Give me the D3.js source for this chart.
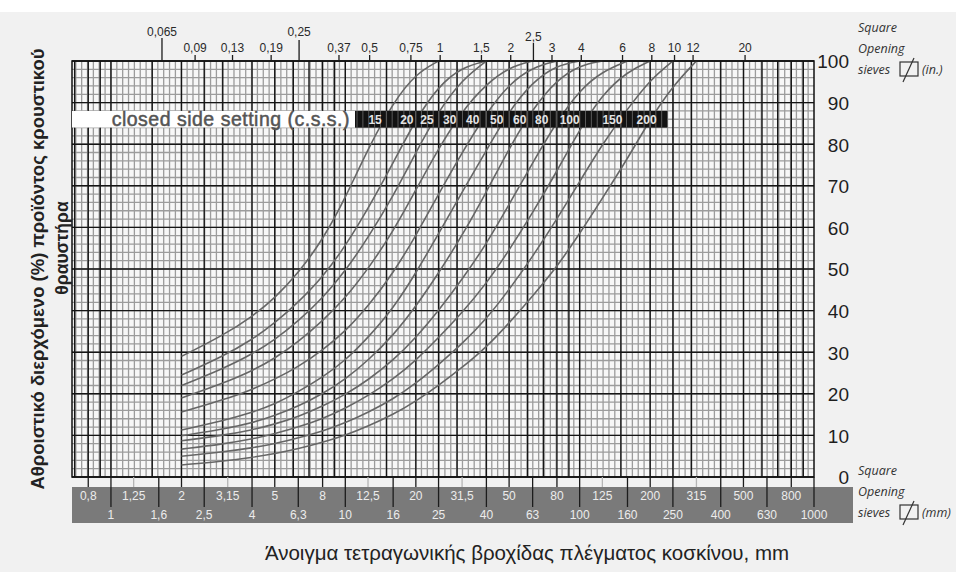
<!DOCTYPE html>
<html>
<head>
<meta charset="utf-8">
<script src="https://cdn.jsdelivr.net/npm/d3@7"></script>
<style>
  body { margin: 0; background: #fff; }
  svg { display: block; font-family: "Liberation Sans", Arial, sans-serif; }
</style>
</head>
<body>
<svg width="956" height="572"></svg>
<script>
// sieve openings (mm) where the passing % was read for every curve
const sieves = [2, 3, 4, 5, 6.3, 8, 10, 12.5, 16, 20, 25, 31.5, 40, 50, 63, 80, 100, 125, 160, 200, 250, 315];

// closed side setting of each curve (mm)
const css = [15, 20, 25, 30, 40, 50, 60, 80, 100, 150, 200];

// cumulative passing (%) per sieve, one array per css
const pass15  = [29, 34, 38.5, 43, 49, 57, 67, 79, 90, 97, 100];
const pass20  = [24.5, 29, 33, 37, 42, 48, 55.5, 64.5, 75.5, 86, 94, 98.5, 100];
const pass25  = [22, 26, 29.5, 33, 37.5, 43, 49.5, 57.5, 67.5, 78, 88, 95.5, 100];
const pass30  = [19, 22.5, 25.5, 28.5, 32.5, 37.5, 43, 50, 59, 69, 79, 88, 94.5, 98.5, 100];
const pass40  = [15.6, 18.5, 21, 23.5, 26.5, 30.5, 35, 41, 49, 58, 68, 78, 87.5, 94.5, 98.5, 100];
const pass50  = [11.3, 13.5, 15.5, 17.5, 20.5, 24, 28, 33.5, 40.5, 49, 58.5, 68.5, 78.5, 88, 95, 99, 100];
const pass60  = [9.9, 11.5, 13, 14.8, 17, 20, 23.5, 28, 34, 41, 49, 58, 68.5, 79, 88.5, 95.5, 99, 100];
const pass80  = [8.7, 10, 11.3, 12.7, 14.5, 17, 19.8, 23.3, 28, 33.5, 40, 47.5, 56, 65.5, 75.5, 85.5, 93, 97.5, 100];
const pass100 = [6.7, 7.9, 9.1, 10.4, 12, 14, 16.5, 19.5, 23.5, 28, 33.5, 39.5, 46.5, 54.5, 63.5, 73.5, 83.5, 92, 97.5, 100];
const pass150 = [5, 6, 7, 8, 9.4, 11, 13, 15.5, 18.7, 22.5, 27, 32, 38, 45, 53, 62, 71, 80, 88.5, 95.5, 100];
const pass200 = [2.9, 3.8, 4.7, 5.6, 6.8, 8.3, 10, 12.2, 15, 18.2, 22, 26.3, 31.2, 37, 43.5, 50.5, 58.5, 67, 76.5, 86, 94, 100];

const curves = [pass15, pass20, pass25, pass30, pass40, pass50, pass60, pass80, pass100, pass150, pass200];

// where the css numbers sit in the black strip (mm)
const cssLabelMm = [13.4, 18.3, 22.3, 27.9, 35, 44.3, 55.5, 68.9, 90.7, 138, 193];

// sieve labels
const mmUpper = [0.8, 1.25, 2, 3.15, 5, 8, 12.5, 20, 31.5, 50, 80, 125, 200, 315, 500, 800];
const mmLower = [1, 1.6, 2.5, 4, 6.3, 10, 16, 25, 40, 63, 100, 160, 250, 400, 630, 1000];
const mmLight = [1.25, 3.15, 12.5, 31.5, 125, 315];
const inchTicks = [0.065, 0.09, 0.13, 0.19, 0.25, 0.37, 0.5, 0.75, 1, 1.5, 2, 2.5, 3, 4, 6, 8, 10, 12, 20];
const yTicks = [0, 10, 20, 30, 40, 50, 60, 70, 80, 90, 100];

var width = 956, height = 572;
var fmt = v => String(v).replace(".", ",");

var svg = d3.select("svg");

svg.append("rect")
  .attr("y", 12).attr("width", width).attr("height", height - 12)
  .attr("fill", "#f1f1f1");

var x = d3.scaleLog().domain([0.682, 1000]).range([72, 814]);
var y = d3.scaleLinear().domain([0, 100]).range([477, 61]);

// plot background
svg.append("rect")
  .attr("x", x.range()[0]).attr("y", y(100))
  .attr("width", x.range()[1] - x.range()[0]).attr("height", y(0) - y(100))
  .attr("fill", "#f7f7f7");

// fine grid
var fineV = d3.range(-6, 121).map(k => Math.pow(10, k / 40)).filter(v => v > 0.69 && v < 1000);
var fineH = d3.range(0, 101, 2);
var grid = svg.append("g").attr("class", "grid");

grid.selectAll("line.fv").data(fineV).join("line")
  .attr("x1", d => x(d)).attr("x2", d => x(d))
  .attr("y1", y(0)).attr("y2", y(100))
  .attr("stroke", "#9c9c9c").attr("stroke-width", 1.3);

grid.selectAll("line.fh").data(fineH).join("line")
  .attr("x1", x.range()[0]).attr("x2", x.range()[1])
  .attr("y1", d => y(d)).attr("y2", d => y(d))
  .attr("stroke", "#9c9c9c").attr("stroke-width", 1.3);

// heavy grid
var mult = [1, 1.5, 2, 2.5, 3, 4, 5, 6, 7, 8, 9];
var heavyV = [];
[0.1, 1, 10, 100].forEach(dec => mult.forEach(m => heavyV.push(+(m * dec).toPrecision(3))));
heavyV = heavyV.filter(v => v > 0.69 && v < 1000);

grid.selectAll("line.hv").data(heavyV).join("line")
  .attr("x1", d => x(d)).attr("x2", d => x(d))
  .attr("y1", y(0)).attr("y2", y(100))
  .attr("stroke", "#151515").attr("stroke-width", 1.4);

grid.selectAll("line.hh").data(yTicks).join("line")
  .attr("x1", x.range()[0]).attr("x2", x.range()[1])
  .attr("y1", d => y(d)).attr("y2", d => y(d))
  .attr("stroke", "#151515").attr("stroke-width", 1.4);

// grading curves
var line = d3.line()
  .x((d, i) => x(sieves[i]))
  .y(d => y(d))
  .curve(d3.curveBasis);

svg.append("g")
  .selectAll("path")
  .data(curves)
  .join("path")
    .attr("d", d => line(d))
    .attr("fill", "none")
    .attr("stroke", "#666")
    .attr("stroke-width", 1.6);

// plot frame
svg.append("rect")
  .attr("x", x.range()[0]).attr("y", y(100))
  .attr("width", x.range()[1] - x.range()[0]).attr("height", y(0) - y(100))
  .attr("fill", "none").attr("stroke", "#111").attr("stroke-width", 1.5);

// css strip
var band = svg.append("g");
band.append("rect")
  .attr("x", x.range()[0]).attr("y", y(88))
  .attr("width", x(11) - x.range()[0]).attr("height", y(84) - y(88))
  .attr("fill", "#fff");
band.append("rect")
  .attr("x", x(11)).attr("y", y(88))
  .attr("width", x(237) - x(11)).attr("height", y(84) - y(88))
  .attr("fill", "#121212");
band.selectAll("line")
  .data(fineV.concat(heavyV).filter(v => v > 11 && v < 237))
  .join("line")
    .attr("x1", d => x(d)).attr("x2", d => x(d))
    .attr("y1", y(88)).attr("y2", y(84))
    .attr("stroke", "#5a5a5a").attr("stroke-width", 1);
band.append("text")
  .attr("x", x(11) - 5).attr("y", y(86) + 7)
  .attr("text-anchor", "end")
  .attr("font-size", 19.5).attr("letter-spacing", 0.5)
  .attr("fill", "#555").attr("stroke", "#555").attr("stroke-width", 0.5)
  .text("closed side setting (c.s.s.)");
band.selectAll("text.css")
  .data(css)
  .join("text")
    .attr("class", "css")
    .attr("x", (d, i) => x(cssLabelMm[i]))
    .attr("y", y(86) + 4.5)
    .attr("text-anchor", "middle")
    .attr("font-size", 12).attr("font-weight", "bold")
    .attr("fill", "#e4e4e4")
    .text(d => d);

// right % axis
var yAxis = svg.append("g")
  .attr("transform", "translate(849,0)")
  .call(d3.axisLeft(y).tickValues(yTicks).tickSize(0).tickPadding(0));
yAxis.select(".domain").remove();
yAxis.attr("font-family", null).attr("font-size", 19);
yAxis.selectAll("text").attr("fill", "#1e1e1e").attr("dy", "0.36em");

// bottom mm band
svg.append("rect")
  .attr("x", 72).attr("y", 487).attr("width", 781).attr("height", 36)
  .attr("fill", "#7a7a7a");

svg.append("g").selectAll("line")
  .data(mmUpper)
  .join("line")
    .attr("x1", d => x(d)).attr("x2", d => x(d))
    .attr("y1", y(0)).attr("y2", 487)
    .attr("stroke", d => mmLight.includes(d) ? "#b5b5b5" : "#1c1c1c")
    .attr("stroke-width", 1.3);

svg.append("g").selectAll("line")
  .data(mmLower)
  .join("line")
    .attr("x1", d => x(d)).attr("x2", d => x(d))
    .attr("y1", y(0)).attr("y2", 507)
    .attr("stroke", "#1c1c1c")
    .attr("stroke-width", 1.3);

svg.append("g").selectAll("text")
  .data(mmUpper)
  .join("text")
    .attr("x", d => x(d)).attr("y", 500)
    .attr("text-anchor", "middle").attr("font-size", 12)
    .attr("fill", "#ececec")
    .text(fmt);

svg.append("g").selectAll("text")
  .data(mmLower)
  .join("text")
    .attr("x", d => x(d)).attr("y", 519)
    .attr("text-anchor", "middle").attr("font-size", 12)
    .attr("fill", "#ececec")
    .text(fmt);

// top inch axis
var tickTop = d => d == 0.065 ? 38 : d == 0.25 ? 40 : d == 2.5 ? 43 : 55;
var labelY = d => d == 0.065 || d == 0.25 ? 36 : d == 2.5 ? 41 : 52;

svg.append("g").selectAll("line")
  .data(inchTicks)
  .join("line")
    .attr("x1", d => x(d * 25.4)).attr("x2", d => x(d * 25.4))
    .attr("y1", y(100)).attr("y2", tickTop)
    .attr("stroke", "#1c1c1c").attr("stroke-width", 1.3);

svg.append("g").selectAll("text")
  .data(inchTicks)
  .join("text")
    .attr("x", d => x(d * 25.4)).attr("y", labelY)
    .attr("text-anchor", "middle").attr("font-size", 12)
    .attr("fill", "#2a2a2a")
    .text(fmt);

// "Square Opening sieves" notes
function sieveNote(top, unit) {
  var g = svg.append("g")
    .attr("font-family", "'Open Sans', sans-serif")
    .attr("font-style", "italic").attr("font-size", 12.5)
    .attr("fill", "#333");
  g.append("text").attr("x", 858).attr("y", top).text("Square");
  g.append("text").attr("x", 858).attr("y", top + 21).text("Opening");
  g.append("text").attr("x", 858).attr("y", top + 42).text("sieves");
  g.append("rect")
    .attr("x", 900).attr("y", top + 30).attr("width", 18).attr("height", 14)
    .attr("fill", "none").attr("stroke", "#333").attr("stroke-width", 1.2);
  g.append("line")
    .attr("x1", 903).attr("y1", top + 50).attr("x2", 914).attr("y2", top + 26)
    .attr("stroke", "#333").attr("stroke-width", 1.2);
  g.append("text").attr("x", 922).attr("y", top + 42).text(unit);
}
sieveNote(32, "(in.)");
sieveNote(475, "(mm)");

// axis titles
svg.append("text")
  .attr("x", 527).attr("y", 560)
  .attr("text-anchor", "middle")
  .attr("font-size", 20.5).attr("fill", "#222")
  .text("Άνοιγμα τετραγωνικής βροχίδας πλέγματος κοσκίνου, mm");

svg.append("text")
  .attr("transform", "translate(44,269) rotate(-90)")
  .attr("text-anchor", "middle")
  .attr("font-size", 18.5).attr("font-weight", "bold").attr("fill", "#222")
  .text("Αθροιστικό διερχόμενο (%) προϊόντος κρουστικού");

svg.append("text")
  .attr("transform", "translate(68,248) rotate(-90)")
  .attr("text-anchor", "middle")
  .attr("font-size", 17.5).attr("font-weight", "bold").attr("fill", "#222")
  .text("θραυστήρα");
</script>
</body>
</html>
